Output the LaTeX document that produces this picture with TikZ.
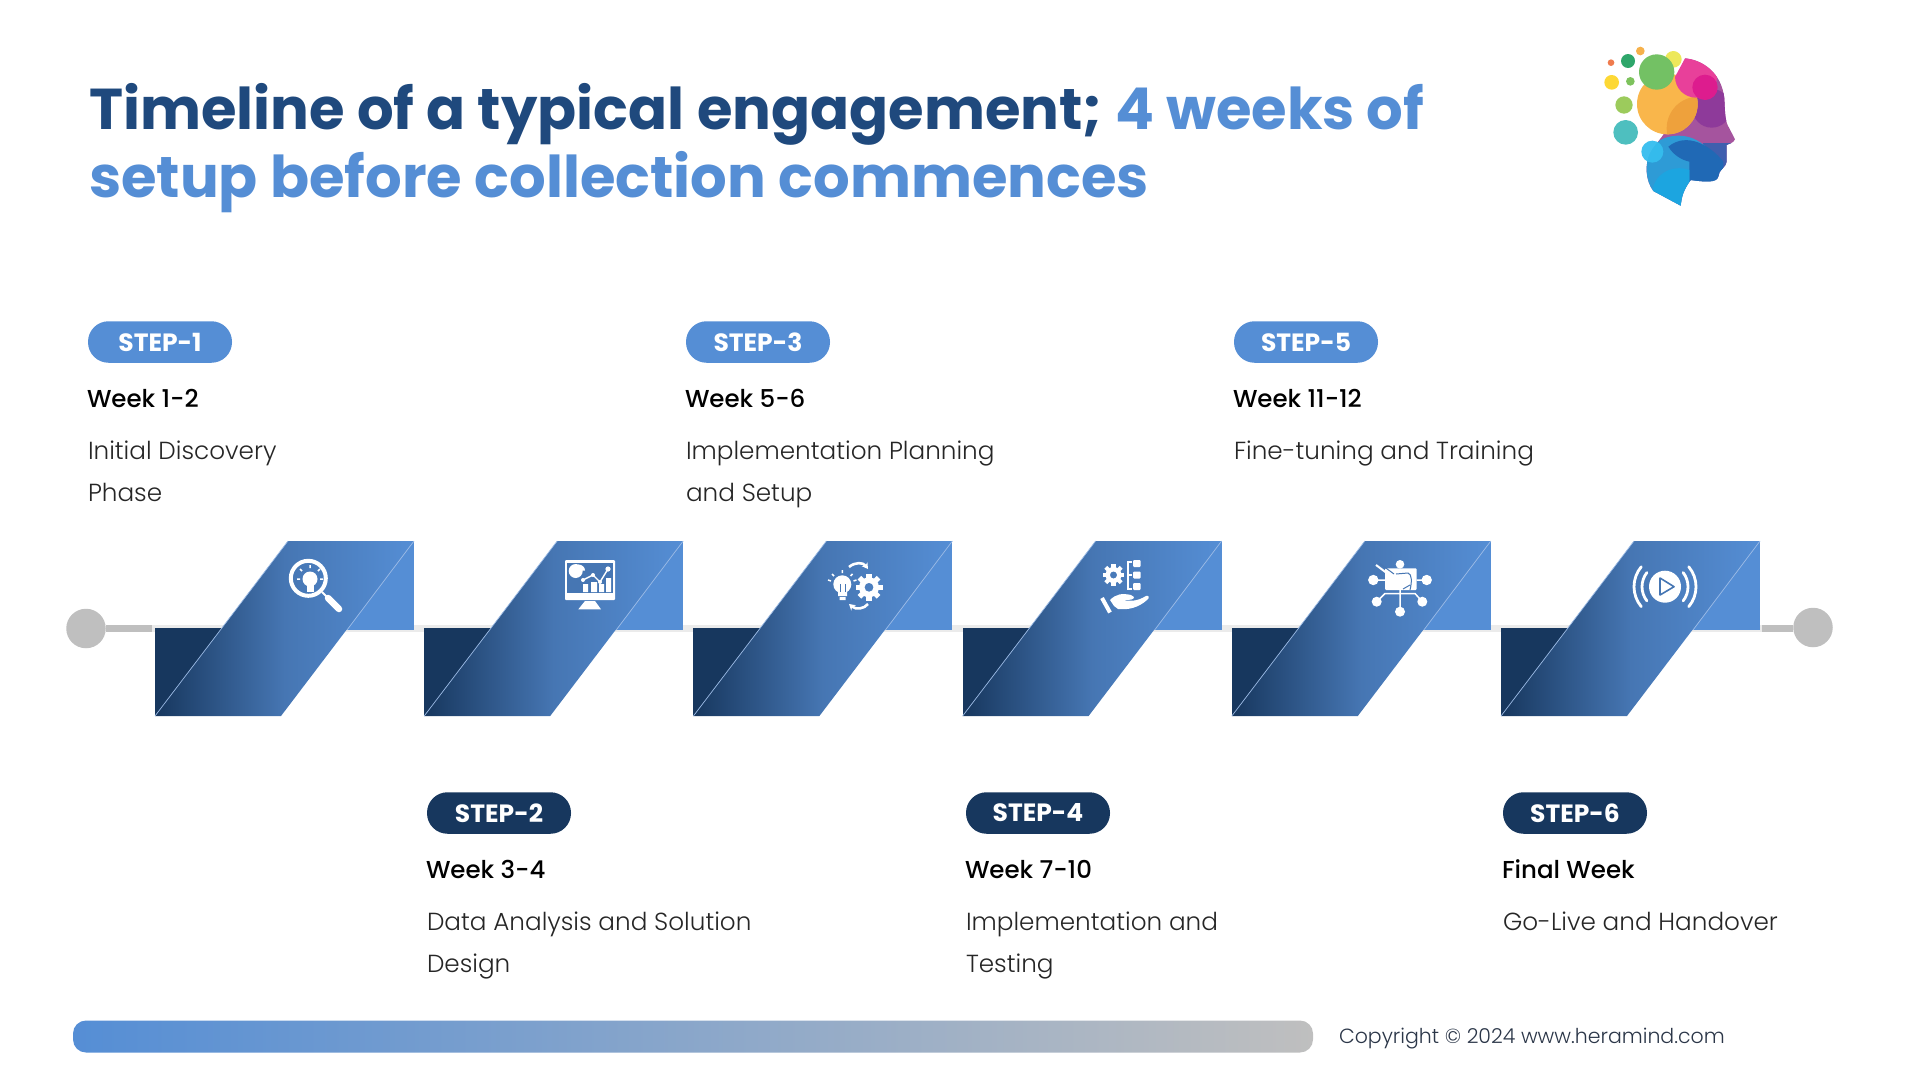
\documentclass[tikz,border=0pt]{standalone}
\usepackage{fontspec}
\setmainfont{Poppins}
\newfontfamily\lightfont{Poppins Light}
\newfontfamily\mediumfont{Poppins Medium}
\usetikzlibrary{arrows.meta, positioning, calc}

\definecolor{navy}{HTML}{17375E}
\definecolor{titleblue}{HTML}{1F497D}
\definecolor{skyblue}{HTML}{558ED5}
\definecolor{midblue}{HTML}{4676B3}
\definecolor{silver}{HTML}{BFBFBF}
\definecolor{band}{HTML}{EBEBEB}
\definecolor{edgeline}{HTML}{9DBCE6}

\pgfdeclarehorizontalshading{ribbon}{100bp}{color(0bp)=(navy); color(25bp)=(navy); color(50bp)=(midblue); color(75bp)=(skyblue); color(100bp)=(skyblue)}

\begin{document}
\begin{tikzpicture}[
    x=1pt, y=-1pt,
    every node/.style={inner sep=0pt, outer sep=0pt},
    stepblue/.style={rectangle, rounded corners=20.5pt, fill=skyblue, text=white, minimum width=144pt,
                minimum height=41.5pt, font=\bfseries\fontsize{25}{28}\selectfont},
    stepnavy/.style={stepblue, fill=navy},
    week/.style={font=\mediumfont\fontsize{24.5}{28}\selectfont, text=black, text height=18pt, text depth=0pt},
    desc/.style={align=left, text=black!85, font=\lightfont\fontsize{24.7}{42}\selectfont},
    enddot/.style={circle, fill=silver, minimum size=39.5pt},
    module/.pic={
        \fill[navy] (0,-88) rectangle (80,0);
        \fill[skyblue] (259,-175) rectangle (180,-86);
        \shade[shading=ribbon] (0,0) -- (133,-175) -- (259,-175) -- (126,0) -- cycle;
        \draw[edgeline, line width=0.7pt] (0,0) -- (133,-175);
        \draw[edgeline, line width=0.7pt] (259,-175) -- (192,-86);
    },
    gear/.pic={
        \fill[white, even odd rule] (0,0) circle (10) (0,0) circle (4.5);
        \foreach \a in {0,45,...,315}
            \fill[white, rotate=\a] (-2.6,-13.5) rectangle (2.6,-9);
    }
]
\useasboundingbox (0,0) rectangle (1914,1074);

% title
\node[anchor=north west, align=left, text=titleblue, font=\bfseries\fontsize{57.6}{68}\selectfont] (title) at (89,83)
    {Timeline of a typical engagement; \textcolor{skyblue}{4 weeks of}\\\textcolor{skyblue}{setup before collection commences}};

% logo
\begin{scope}[shift={(1570,30)}, scale=1/3]
\fill[fill={rgb,255:red,239;green,123;blue,77}] (123,98) circle (10);
\fill[fill={rgb,255:red,46;green,166;blue,106}] (174,93) circle (21);
\fill[fill={rgb,255:red,246;green,177;blue,75}] (211,63) circle (13);
\fill[fill={rgb,255:red,253;green,216;blue,53}] (125,157) circle (22);
\fill[fill={rgb,255:red,125;green,194;blue,93}] (181,154) circle (13);
\fill[fill={rgb,255:red,156;green,203;blue,92}] (162,225) circle (26);
\fill[fill={rgb,255:red,78;green,191;blue,191}] (167,307) circle (37);
\fill[fill={rgb,255:red,237;green,232;blue,90}] (310,88) circle (25);
\begin{scope}
\clip (345,85) .. controls (400,90) and (455,130) .. (463,205) .. controls (465,250) and (465,275) .. (478,295) -- (495,328) .. controls (490,340) and (475,342) .. (470,345) -- (470,395) .. controls (470,410) and (445,420) .. (445,440) .. controls (440,460) and (400,455) .. (362,450) .. controls (340,480) and (335,500) .. (332,527) -- (250,483) .. controls (225,450) and (225,400) .. (240,370) .. controls (260,330) and (300,310) .. (300,250) -- cycle;
\fill[fill={rgb,255:red,165;green,84;blue,158}] (200,60) rectangle (520,540);
\fill[fill={rgb,255:red,142;green,58;blue,154}] (425,235) circle (58);
\end{scope}
\fill[fill={rgb,255:red,249;green,182;blue,75}] (292,222) circle (91);
\begin{scope}
\clip (292,222) circle (91);
\fill[fill={rgb,255:red,238;green,161;blue,60}] (385,295) circle (95);
\end{scope}
\begin{scope}
\clip (345,85) .. controls (400,90) and (455,130) .. (463,205) .. controls (465,250) and (465,275) .. (478,295) -- (495,328) .. controls (490,340) and (475,342) .. (470,345) -- (470,395) .. controls (470,410) and (445,420) .. (445,440) .. controls (440,460) and (400,455) .. (362,450) .. controls (340,480) and (335,500) .. (332,527) -- (250,483) .. controls (225,450) and (225,400) .. (240,370) .. controls (260,330) and (295,315) .. (300,300) -- (310,150) -- cycle;
\fill[fill={rgb,255:red,232;green,64;blue,154}] (378,140) circle (63);
\fill[fill={rgb,255:red,221;green,28;blue,142}] (405,172) circle (38);
\fill[fill={rgb,255:red,63;green,95;blue,174}] (400,340) rectangle (500,420);
\fill[fill={rgb,255:red,46;green,155;blue,214}] (325,435) circle (118);
\fill[fill={rgb,255:red,32;green,105;blue,181}] (358,395) -- (358,460) -- (460,460) -- (460,395) .. controls (420,345) and (350,305) .. (295,350) .. controls (310,375) and (335,390) .. (358,395) -- cycle;
\fill[fill={rgb,255:red,28;green,165;blue,224}] (250,470) .. controls (265,420) and (320,405) .. (358,420) -- (358,530) -- (240,530) -- cycle;
\end{scope}
\fill[fill={rgb,255:red,115;green,193;blue,100}] (260,126) circle (53);
\fill[fill={rgb,255:red,53;green,189;blue,238}, fill opacity=0.95] (247,365) circle (33);
\end{scope}

% timeline band
\node[enddot] (startdot) at (86,628.5) {};
\node[enddot] (stopdot) at (1813,627.5) {};
\coordinate (stubleft) at (152,628.5);
\coordinate (stubright) at (1762,628.5);
\draw[band, line width=7pt] (stubleft) -- (stubright);
\draw[silver, line width=7pt] (startdot) -- (stubleft);
\draw[silver, line width=7pt] (stopdot.west |- stubright) -- (stubright);

\pic at (155,716) {module};
\pic at (424.2,716) {module};
\pic at (693.4,716) {module};
\pic at (962.6,716) {module};
\pic at (1231.8,716) {module};
\pic at (1501,716) {module};

% icon 1
\draw[white, line width=4pt] (308.3,578.3) circle (17.5);
\fill[white] (310,579) circle (7.5);
\fill[white] (306.5,583) rectangle (313.5,592);
\draw[white, line width=1.5pt] (310,565) -- (310,568) (300,569) -- (302,571) (320,569) -- (318,571) (297,579) -- (300,579) (323,579) -- (320,579);
\draw[white, line width=2pt] (322,592) -- (328,598);
\draw[white, line width=6.5pt, line cap=round] (328,598) -- (339,609);

% icon 2
\fill[white, rounded corners=1pt] (565,560) rectangle (615,600);
\fill[midblue] (567,562.7) rectangle (613,592.7);
\fill[white] (585,601) -- (595,601) -- (601,609.3) -- (578.3,609.3) -- cycle;
\fill[white] (575.7,571) circle (7);
\fill[white] (578,564.5) -- (578,570.5) -- (585,570.5) .. controls (585,567) and (582,564.5) .. (578,564.5) -- cycle;
\fill[white] (583,584) rectangle (588,592) (591,582) rectangle (597,592) (599,584) rectangle (604,592) (606,578) rectangle (611,592);
\draw[white, line width=1.4pt] (583,580) -- (593,575) -- (600,582) -- (608,569);
\fill[white] (583,580) circle (2) (593,575) circle (2) (600,582) circle (2) (608,569) circle (2.6);

% icon 3
\fill[white] (842.3,584.3) circle (9);
\fill[white] (838,590) rectangle (847,596) (839.5,597) rectangle (845.5,600);
\draw[midblue, line width=1pt] (840,592) -- (840,584) (845,592) -- (845,584);
\draw[white, line width=1.5pt] (842.3,570) -- (842.3,573) (832,574) -- (834,576) (852.5,574) -- (850.5,576) (828,580) -- (831,581) (856.5,580) -- (853.5,581);
\pic at (869,587.3) {gear};
\draw[white, line width=2.6pt, -{Stealth[length=6pt, width=7pt]}] (849,567) .. controls (855,562) and (863,562) .. (868,569);
\draw[white, line width=2.6pt, -{Stealth[length=6pt, width=7pt]}] (868,604) .. controls (864,609) and (856,610) .. (849,604);

% icon 4
\pic[scale=0.8] at (1113.5,575) {gear};
\draw[white, line width=1.6pt] (1132,562) -- (1128,562) -- (1128,589) -- (1132,589) (1128,575) -- (1132,575);
\fill[white, rounded corners=1pt] (1133,560) rectangle (1140.5,567) (1133,571.5) rectangle (1140.5,578.5) (1133,583) rectangle (1140.5,590);
\draw[white, line width=4pt] (1102,598) -- (1110,612.5);
\fill[white] (1110,600) .. controls (1116,594) and (1122,593) .. (1131,595) -- (1134,597) .. controls (1134,600) and (1130,600) .. (1122,600) .. controls (1130,601) and (1136,602) .. (1146,596) .. controls (1149,595) and (1150,598) .. (1147,600) .. controls (1138,608) and (1128,610) .. (1118,609) -- (1114,606) -- cycle;

% icon 5
\fill[white, rounded corners=1pt] (1385,568.3) rectangle (1416.7,590);
\fill[white] (1400,564.3) circle (4.3);
\draw[midblue, line width=1pt] (1396,574) -- (1408,573) .. controls (1412,574) and (1412,582) .. (1410,590) (1403,589) -- (1410,585);
\draw[white, line width=2pt] (1376,565) -- (1392,577);
\draw[midblue, line width=1pt] (1379,563) -- (1394,574);
\fill[white] (1373.3,580) circle (5.2) (1426.7,580) circle (5.2) (1376.7,601.7) circle (5) (1422.3,601.7) circle (5) (1400,611.7) circle (5);
\draw[white, line width=1.5pt] (1373.3,580) -- (1385,580) (1416.7,580) -- (1426.7,580) (1376.7,601.7) -- (1385,593.5) -- (1415,593.5) -- (1422.3,601.7) (1400,593.5) -- (1400,611.7) (1400,590) -- (1400,593.5);

% icon 6
\fill[white] (1665,586.7) circle (16);
\draw[midblue, line width=1.6pt, line join=round] (1660,578) -- (1660,595) -- (1674,586.7) -- cycle;
\draw[white, line width=2.8pt, line cap=round] (1665,586.7) ++(142:23) arc (142:218:23);
\draw[white, line width=2.8pt, line cap=round] (1665,586.7) ++(140:31) arc (140:220:31);
\draw[white, line width=2.8pt, line cap=round] (1665,586.7) ++(38:23) arc (38:-38:23);
\draw[white, line width=2.8pt, line cap=round] (1665,586.7) ++(40:31) arc (40:-40:31);

% top row
\node[stepblue] (step1) at (160,342) {STEP-1};
\node[week, below right=27pt and -1pt of step1.south west] (week1) {Week 1-2};
\node[desc, below right=33pt and 1pt of week1.south west] (desc1) {Initial Discovery\\Phase};

\node[stepblue] (step3) at (758,342) {STEP-3};
\node[week, below right=27pt and -1pt of step3.south west] (week3) {Week 5-6};
\node[desc, below right=33pt and 1pt of week3.south west] (desc3) {Implementation Planning\\and Setup};

\node[stepblue] (step5) at (1306,342) {STEP-5};
\node[week, below right=27pt and -1pt of step5.south west] (week5) {Week 11-12};
\node[desc, below right=33pt and 1pt of week5.south west] (desc5) {Fine-tuning and Training};

% bottom row
\node[stepnavy] (step2) at (499,813) {STEP-2};
\node[week, below right=27pt and -1pt of step2.south west] (week2) {Week 3-4};
\node[desc, below right=33pt and 1pt of week2.south west] (desc2) {Data Analysis and Solution\\Design};

\node[stepnavy] (step4) at (1038,813) {STEP-4};
\node[week, below right=27pt and -1pt of step4.south west] (week4) {Week 7-10};
\node[desc, below right=33pt and 1pt of week4.south west] (desc4) {Implementation and\\Testing};

\node[stepnavy] (step6) at (1575,813) {STEP-6};
\node[week, below right=27pt and -1pt of step6.south west] (week6) {Final Week};
\node[desc, below right=33pt and 1pt of week6.south west] (desc6) {Go-Live and Handover};

% footer
\shade[left color=skyblue, right color=silver, rounded corners=13pt] (73,1020.5) rectangle (1313,1052.5);
\node[anchor=base west, text={rgb,255:red,43;green,54;blue,72}, font=\lightfont\fontsize{20.5}{26}\selectfont] (copyright) at (1339,1043) {Copyright © 2024 www.heramind.com};
\end{tikzpicture}
\end{document}
